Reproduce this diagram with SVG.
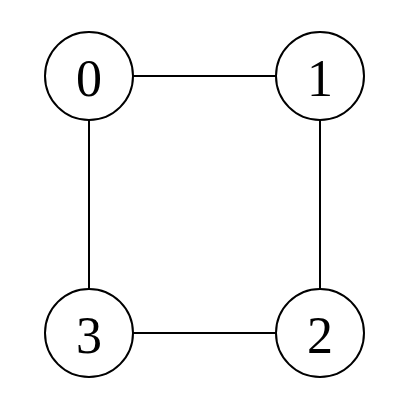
<svg xmlns="http://www.w3.org/2000/svg" width="410" height="410" viewBox="0 0 410 410">
<style>
.n circle{fill:#fff;stroke:#000;stroke-width:2}
.n text{font-family:"Liberation Serif","DejaVu Serif",serif;font-size:52px;text-anchor:middle;dominant-baseline:central;fill:#000}
.e line{stroke:#000;stroke-width:2}
</style>
<rect width="410" height="410" fill="#fff"/>
<g id="edges" class="e">
<line x1="133" y1="76" x2="276" y2="76"/>
<line x1="89" y1="120" x2="89" y2="289"/>
<line x1="320" y1="120" x2="320" y2="289"/>
<line x1="133" y1="333" x2="276" y2="333"/>
</g>
<g id="node0" class="n"><circle cx="89" cy="76" r="44"/><text x="89" y="78">0</text></g>
<g id="node1" class="n"><circle cx="320" cy="76" r="44"/><text x="320" y="78">1</text></g>
<g id="node2" class="n"><circle cx="320" cy="333" r="44"/><text x="320" y="335">2</text></g>
<g id="node3" class="n"><circle cx="89" cy="333" r="44"/><text x="89" y="335">3</text></g>
</svg>
